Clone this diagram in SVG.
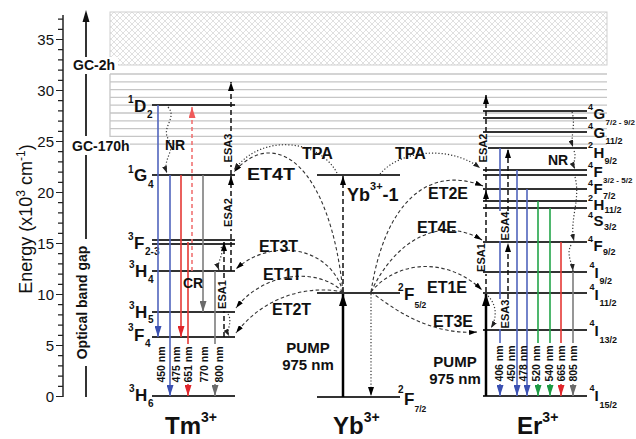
<svg xmlns="http://www.w3.org/2000/svg" width="636" height="439" viewBox="0 0 636 439">
<defs>
<style>
text{font-family:"Liberation Sans",Arial,Helvetica,sans-serif;fill:#111}
.tk{font-size:15px;text-anchor:end}
.lv{font-size:17px;font-weight:bold}
.ls{font-size:10px;font-weight:bold}
.ev{font-size:15px;font-weight:bold}
.es{font-size:9px;font-weight:bold}
.lb{font-size:16px;font-weight:bold}
.sm{font-size:14px;font-weight:bold}
.wl{font-size:10.5px;font-weight:bold;text-anchor:middle}
.ea{font-size:11px;font-weight:bold;text-anchor:middle}
.ion{font-size:24px;font-weight:bold}
.pump{font-size:15px;font-weight:bold;text-anchor:middle}
.lvl{stroke:#333;stroke-width:2;fill:none}
.band{stroke:#c6c6c6;stroke-width:1.3;fill:none}
.tr{stroke-width:1.6;fill:none}
.blue{stroke:#5165bd}
.red{stroke:#e53935}
.green{stroke:#23a64a}
.gray{stroke:#7d7d7d}
.pink{stroke:#f07373;stroke-dasharray:4 3}
.esa{stroke:#111;stroke-width:1.5;stroke-dasharray:5 3;fill:none}
.et{stroke:#333;stroke-width:1.1;stroke-dasharray:3.5 2.5;fill:none}
.dot{stroke:#333;stroke-width:1.2;stroke-dasharray:1.2 2;fill:none}
</style>
<pattern id="hatch" width="6" height="6" patternUnits="userSpaceOnUse">
<path d="M0,0 L6,6 M6,0 L0,6" stroke="#d2d2d2" stroke-width="0.7"/>
</pattern>
<marker id="aBlue" viewBox="0 0 11 7" refX="11" refY="3.5" markerWidth="11" markerHeight="7" markerUnits="userSpaceOnUse" orient="auto"><path d="M0,0 L11,3.5 L0,7z" fill="#3a50b2"/></marker>
<marker id="aRed" viewBox="0 0 11 7" refX="11" refY="3.5" markerWidth="11" markerHeight="7" markerUnits="userSpaceOnUse" orient="auto"><path d="M0,0 L11,3.5 L0,7z" fill="#e0242a"/></marker>
<marker id="aGreen" viewBox="0 0 11 7" refX="11" refY="3.5" markerWidth="11" markerHeight="7" markerUnits="userSpaceOnUse" orient="auto"><path d="M0,0 L11,3.5 L0,7z" fill="#1c9a42"/></marker>
<marker id="aGray" viewBox="0 0 11 7" refX="11" refY="3.5" markerWidth="11" markerHeight="7" markerUnits="userSpaceOnUse" orient="auto"><path d="M0,0 L11,3.5 L0,7z" fill="#6a6a6a"/></marker>
<marker id="aPink" viewBox="0 0 11 7" refX="11" refY="3.5" markerWidth="11" markerHeight="7" markerUnits="userSpaceOnUse" orient="auto"><path d="M0,0 L11,3.5 L0,7z" fill="#ef5a5a"/></marker>
<marker id="aPump" viewBox="0 0 12 8" refX="12" refY="4" markerWidth="12" markerHeight="8" markerUnits="userSpaceOnUse" orient="auto"><path d="M0,0 L12,4 L0,8z" fill="#000"/></marker>
<marker id="aEsa" viewBox="0 0 9 6" refX="9" refY="3" markerWidth="9" markerHeight="6" markerUnits="userSpaceOnUse" orient="auto"><path d="M0,0 L9,3 L0,6z" fill="#000"/></marker>
<marker id="aEt" viewBox="0 0 8 5" refX="8" refY="2.5" markerWidth="8" markerHeight="5" markerUnits="userSpaceOnUse" orient="auto"><path d="M0,0 L8,2.5 L0,5z" fill="#000"/></marker>
<marker id="aDot" viewBox="0 0 7 5" refX="7" refY="2.5" markerWidth="7" markerHeight="5" markerUnits="userSpaceOnUse" orient="auto"><path d="M0,0 L7,2.5 L0,5z" fill="#222"/></marker>
</defs>

<rect width="636" height="439" fill="#fff"/>

<g id="axis">
<path d="M63,15 V397" stroke="#222" stroke-width="1.5" fill="none"/>
<path d="M56,396.5H63 M58,386.3H63 M58,376.1H63 M58,365.9H63 M58,355.7H63 M56,345.5H63 M58,335.3H63 M58,325.1H63 M58,314.9H63 M58,304.7H63 M56,294.5H63 M58,284.3H63 M58,274.1H63 M58,263.9H63 M58,253.7H63 M56,243.5H63 M58,233.3H63 M58,223.1H63 M58,212.9H63 M58,202.7H63 M56,192.5H63 M58,182.3H63 M58,172.1H63 M58,161.9H63 M58,151.7H63 M56,141.5H63 M58,131.3H63 M58,121.1H63 M58,110.9H63 M58,100.7H63 M56,90.5H63 M58,80.3H63 M58,70.1H63 M58,59.9H63 M58,49.7H63 M56,39.5H63 M58,29.3H63 M58,19.1H63" stroke="#222" stroke-width="1.2" fill="none"/>
<text class="tk" x="54" y="402">0</text>
<text class="tk" x="54" y="351">5</text>
<text class="tk" x="54" y="300">10</text>
<text class="tk" x="54" y="249">15</text>
<text class="tk" x="54" y="198">20</text>
<text class="tk" x="54" y="147">25</text>
<text class="tk" x="54" y="96">30</text>
<text class="tk" x="54" y="45">35</text>
<text transform="translate(32,219) rotate(-90)" text-anchor="middle" font-size="18">Energy (x10<tspan dy="-7" font-size="12">3</tspan><tspan dy="7"> cm</tspan><tspan dy="-7" font-size="12">-1</tspan><tspan dy="7">)</tspan></text>
</g>

<g id="glass-bands">
<rect x="110" y="12" width="497" height="53" fill="url(#hatch)" stroke="#cfcfcf" stroke-width="1"/>
<path class="band" d="M110,74H607 M110,81.8H607 M110,89.6H607 M110,97.4H607 M110,105.2H607 M110,113H607 M110,120.8H607 M110,128.6H607 M110,136.4H607 M130,144.2H607 M110,74V137"/>
</g>

<g id="gap-arrow">
<path d="M86,21 V57 M86,74 V136 M86,155 V239 M86,366 V397" stroke="#333" stroke-width="2" fill="none"/>
<polygon points="86,10 82.5,22 89.5,22" fill="#111"/>
<rect x="71" y="57" width="47" height="15" fill="#fff"/>
<rect x="70" y="137" width="60" height="16" fill="#fff"/>
<text class="sm" x="73" y="70">GC-2h</text>
<text class="sm" x="72" y="151">GC-170h</text>
<text transform="translate(86.5,302.5) rotate(-90)" text-anchor="middle" font-size="14" font-weight="bold">Optical band gap</text>
</g>

<g id="Tm">
<g id="Tm-1D2"><path class="lvl" d="M152,105H235"/><text class="ls" x="128" y="103">1</text><text class="lv" x="134" y="112">D</text><text class="ls" x="147" y="118">2</text></g>
<g id="Tm-1G4"><path class="lvl" d="M152,175H235"/><text class="ls" x="128" y="173">1</text><text class="lv" x="134" y="181">G</text><text class="ls" x="148" y="188">4</text></g>
<g id="Tm-3F23"><path class="lvl" d="M152,240H235 M152,244H235"/><text class="ls" x="128" y="240">3</text><text class="lv" x="134" y="249">F</text><text class="ls" x="145" y="255">2-3</text></g>
<g id="Tm-3H4"><path class="lvl" d="M152,271H235"/><text class="ls" x="129" y="268">3</text><text class="lv" x="135" y="277">H</text><text class="ls" x="148" y="283">4</text></g>
<g id="Tm-3H5"><path class="lvl" d="M152,312H235"/><text class="ls" x="129" y="309">3</text><text class="lv" x="135" y="318">H</text><text class="ls" x="148" y="323">5</text></g>
<g id="Tm-3F4"><path class="lvl" d="M152,337H235"/><text class="ls" x="128" y="331">3</text><text class="lv" x="134" y="341">F</text><text class="ls" x="145" y="347">4</text></g>
<g id="Tm-3H6"><path class="lvl" d="M152,396H235"/><text class="ls" x="129" y="392">3</text><text class="lv" x="135" y="401">H</text><text class="ls" x="148" y="407">6</text></g>
<text class="ion" x="165" y="434">Tm<tspan font-size="14" dy="-12">3+</tspan></text>
</g>

<g id="Yb">
<g id="Yb-excited"><path class="lvl" d="M317,175H400"/><text font-size="18" font-weight="bold" x="347" y="201">Yb<tspan font-size="11" dy="-11">3+</tspan><tspan dy="11">-1</tspan></text></g>
<g id="Yb-2F52"><path class="lvl" d="M317,293H400"/><text class="ls" x="398" y="291">2</text><text class="lv" x="404" y="300">F</text><text font-size="8.5" font-weight="bold" x="414.5" y="308">5/2</text></g>
<g id="Yb-2F72"><path class="lvl" d="M317,397H400"/><text class="ls" x="398" y="393">2</text><text class="lv" x="404" y="405">F</text><text font-size="8.5" font-weight="bold" x="414.5" y="412">7/2</text></g>
<text class="ion" x="333" y="434">Yb<tspan font-size="14" dy="-12">3+</tspan></text>
</g>

<g id="Er">
<g id="Er-4G79"><path class="lvl" d="M483,111H587 M483,118H587"/><text class="es" x="588" y="110">4</text><text class="ev" x="593.5" y="119">G</text><text font-size="8" font-weight="bold" x="605.5" y="125">7/2 - 9/2</text></g>
<g id="Er-4G11"><path class="lvl" d="M483,132H587"/><text class="es" x="588" y="129">4</text><text class="ev" x="593.5" y="138">G</text><text class="es" x="605.5" y="144">11/2</text></g>
<g id="Er-2H9"><path class="lvl" d="M488,148H587"/><text class="es" x="588" y="148">2</text><text class="ev" x="593.5" y="158">H</text><text class="es" x="604.5" y="164">9/2</text></g>
<g id="Er-4F35"><path class="lvl" d="M483,170H587 M483,175H587"/><text class="es" x="588" y="168">4</text><text class="ev" x="593.5" y="177">F</text><text font-size="8" font-weight="bold" x="603" y="183">3/2 - 5/2</text></g>
<g id="Er-4F7"><path class="lvl" d="M483,189H587"/><text class="es" x="588" y="186">4</text><text class="ev" x="593.5" y="194">F</text><text class="es" x="603" y="199">7/2</text></g>
<g id="Er-2H11"><path class="lvl" d="M483,201H587"/><text class="es" x="588" y="201">2</text><text class="ev" x="593.5" y="210">H</text><text class="es" x="604.5" y="213">11/2</text></g>
<g id="Er-4S3"><path class="lvl" d="M483,208H587"/><text class="es" x="588" y="217.5">4</text><text class="ev" x="593.5" y="226">S</text><text class="es" x="604" y="230">3/2</text></g>
<g id="Er-4F9"><path class="lvl" d="M483,242H587"/><text class="es" x="588" y="242">4</text><text class="ev" x="593.5" y="251">F</text><text class="es" x="603" y="255">9/2</text></g>
<g id="Er-4I9"><path class="lvl" d="M483,272H587"/><text class="es" x="589.5" y="268">4</text><text class="ev" x="594.5" y="278">I</text><text class="es" x="599.5" y="284">9/2</text></g>
<g id="Er-4I11"><path class="lvl" d="M483,293H587"/><text class="es" x="589.5" y="290">4</text><text class="ev" x="594.5" y="300">I</text><text class="es" x="599.5" y="306">11/2</text></g>
<g id="Er-4I13"><path class="lvl" d="M483,330H587"/><text class="es" x="589.5" y="326">4</text><text class="ev" x="594.5" y="336">I</text><text class="es" x="599.5" y="343">13/2</text></g>
<g id="Er-4I15"><path class="lvl" d="M483,396H587"/><text class="es" x="589.5" y="391">4</text><text class="ev" x="594.5" y="401">I</text><text class="es" x="599.5" y="408">15/2</text></g>
<text class="ion" x="517" y="434">Er<tspan font-size="14" dy="-12">3+</tspan></text>
</g>

<g id="connectors">
<path class="tr blue" d="M158,105V337" marker-end="url(#aBlue)"/>
<path class="tr blue" d="M170,175V396" marker-end="url(#aBlue)"/>
<path class="tr red" d="M181,175V337" marker-end="url(#aRed)"/>
<path class="tr red" d="M188,242V344 M188,384V396" marker-end="url(#aRed)"/>
<path class="tr pink" d="M192,271V107" marker-end="url(#aPink)"/>
<path class="tr gray" d="M203,175V312" marker-end="url(#aGray)"/>
<path class="tr gray" d="M215,271V344 M215,384V396" marker-end="url(#aGray)"/>
<path class="tr blue" d="M500,148V211 M500,241V299 M500,329V343 M500,384V396" marker-end="url(#aBlue)"/>
<path class="tr blue" d="M517,170V396" marker-end="url(#aBlue)"/>
<path class="tr blue" d="M527,189V396" marker-end="url(#aBlue)"/>
<path class="tr green" d="M538,201V343 M538,384V396" marker-end="url(#aGreen)"/>
<path class="tr green" d="M550,208V343 M550,384V396" marker-end="url(#aGreen)"/>
<path class="tr red" d="M561,242V343 M561,384V396" marker-end="url(#aRed)"/>
<path class="tr gray" d="M573,272V343 M573,384V396" marker-end="url(#aGray)"/>
<path d="M343,397V294" stroke="#000" stroke-width="2.5" fill="none" marker-end="url(#aPump)"/>
<path d="M486,396V294" stroke="#000" stroke-width="2.5" fill="none" marker-end="url(#aPump)"/>
<path class="esa" d="M343,292V176" marker-end="url(#aEsa)"/>
<path class="dot" d="M371,294V396" marker-end="url(#aEsa)"/>
<path class="esa" d="M224,337V311 M224,278V242" marker-end="url(#aEsa)"/>
<path class="esa" d="M231,271V229 M231,196V176" marker-end="url(#aEsa)"/>
<path class="esa" d="M231,175V165 M231,131V82" marker-end="url(#aEsa)"/>
<path class="esa" d="M486,292V274 M486,241V190" marker-end="url(#aEsa)"/>
<path class="esa" d="M486,188V164 M486,132V95" marker-end="url(#aEsa)"/>
<path class="esa" d="M508,299V243" marker-end="url(#aEsa)"/>
<path class="esa" d="M508,211V149" marker-end="url(#aEsa)"/>
<path class="et" d="M343,292 C330,165 275,125 234,172" marker-end="url(#aEt)"/>
<path class="et" d="M343,292 C330,245 270,238 236,269" marker-end="url(#aEt)"/>
<path class="et" d="M343,292 C320,268 265,270 236,308" marker-end="url(#aEt)"/>
<path class="et" d="M343,292 C310,285 265,295 236,333" marker-end="url(#aEt)"/>
<path class="et" d="M371,292 C385,200 430,165 483,186" marker-end="url(#aEt)"/>
<path class="et" d="M371,292 C395,240 440,215 482,240" marker-end="url(#aEt)"/>
<path class="et" d="M371,292 C395,262 445,255 482,290" marker-end="url(#aEt)"/>
<path class="et" d="M371,292 C395,310 430,335 477,332" marker-end="url(#aEt)"/>
<path class="dot" d="M337,173 C320,140 262,132 234,170" marker-end="url(#aDot)"/>
<path class="dot" d="M380,174 C400,150 450,145 480,168" marker-end="url(#aDot)"/>
<path class="dot" d="M168,107 C178,118 160,128 169,140 C176,150 162,160 167,173" marker-end="url(#aDot)"/>
<path class="dot" d="M221,247 C225,254 216,262 219,270" marker-end="url(#aDot)"/>
<path class="dot" d="M228,314 C233,322 226,330 229,336" marker-end="url(#aDot)"/>
<path class="dot" d="M572,112 C576,125 570,138 573,147" marker-end="url(#aDot)"/>
<path class="dot" d="M574,151 C577,157 572,163 575,169" marker-end="url(#aDot)"/>
<path class="dot" d="M575,177 C581,200 569,220 574,241" marker-end="url(#aDot)"/>
<path class="dot" d="M571,245 C566,255 572,262 573,271" marker-end="url(#aDot)"/>
<path class="dot" d="M488,296 C497,305 497,318 491,328" marker-end="url(#aDot)"/>
</g>

<g id="labels">
<text class="sm" x="165" y="150">NR</text>
<text class="sm" x="548" y="165">NR</text>
<text class="sm" x="183" y="288">CR</text>
<text class="lb" x="247" y="180" textLength="48" lengthAdjust="spacingAndGlyphs">ET4T</text>
<text class="lb" x="259" y="252">ET3T</text>
<text class="lb" x="263" y="280">ET1T</text>
<text class="lb" x="272" y="315">ET2T</text>
<text class="lb" x="428" y="199">ET2E</text>
<text class="lb" x="417" y="233">ET4E</text>
<text class="lb" x="427" y="293">ET1E</text>
<text class="lb" x="433" y="327">ET3E</text>
<text class="lb" x="302" y="159">TPA</text>
<text class="lb" x="395" y="159">TPA</text>
<text class="pump" x="308" y="353">PUMP</text>
<text class="pump" x="308" y="370">975 nm</text>
<text class="pump" x="455" y="367">PUMP</text>
<text class="pump" x="455" y="384">975 nm</text>
<text class="ea" transform="translate(226,294.5) rotate(-90)">ESA1</text>
<text class="ea" transform="translate(232,212.5) rotate(-90)">ESA2</text>
<text class="ea" transform="translate(232,148) rotate(-90)">ESA3</text>
<text class="ea" transform="translate(485,257.5) rotate(-90)">ESA1</text>
<text class="ea" transform="translate(487,148) rotate(-90)">ESA2</text>
<text class="ea" transform="translate(509,314) rotate(-90)">ESA3</text>
<text class="ea" transform="translate(509,226) rotate(-90)">ESA4</text>
<text class="wl" transform="translate(165,364.5) rotate(-90)">450 nm</text>
<text class="wl" transform="translate(180,364.5) rotate(-90)">475 nm</text>
<text class="wl" transform="translate(192,364.5) rotate(-90)">651 nm</text>
<text class="wl" transform="translate(208,364.5) rotate(-90)">770 nm</text>
<text class="wl" transform="translate(223,364.5) rotate(-90)">800 nm</text>
<text class="wl" transform="translate(503,363.5) rotate(-90)">406 nm</text>
<text class="wl" transform="translate(515,363.5) rotate(-90)">450 nm</text>
<text class="wl" transform="translate(527,363.5) rotate(-90)">478 nm</text>
<text class="wl" transform="translate(540,363.5) rotate(-90)">520 nm</text>
<text class="wl" transform="translate(553,363.5) rotate(-90)">540 nm</text>
<text class="wl" transform="translate(565,363.5) rotate(-90)">665 nm</text>
<text class="wl" transform="translate(577,363.5) rotate(-90)">805 nm</text>
</g>
</svg>
